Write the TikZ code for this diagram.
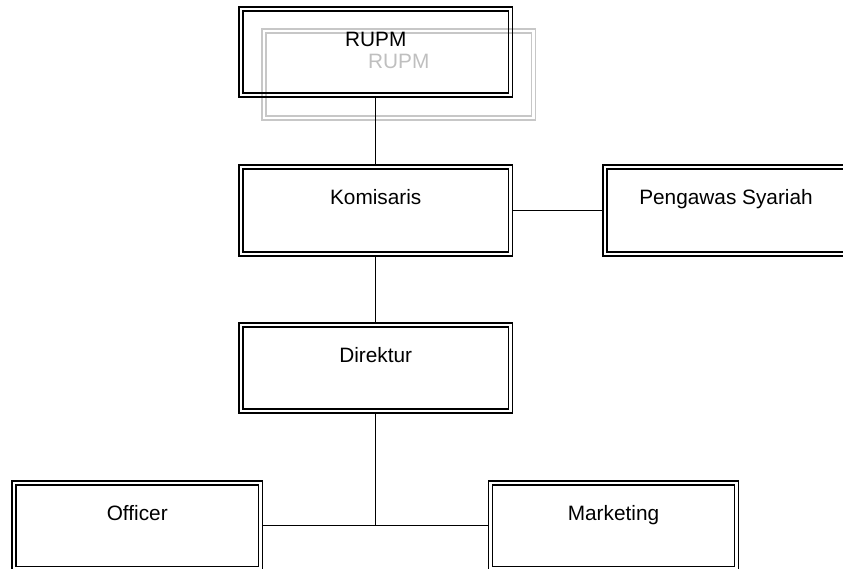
\documentclass[tikz,border=0pt]{standalone}
\usepackage{fontspec}
\setmainfont{Liberation Sans}
\newcommand{\dblbox}[2]{%
  \draw[#2, line width=1.1pt] ([xshift=-2pt,yshift=2pt]#1.north west) rectangle ([xshift=2pt,yshift=-2pt]#1.south east);
  \draw[#2, line width=1.6pt] ([xshift=2pt,yshift=-2pt]#1.north west) rectangle ([xshift=-2pt,yshift=2pt]#1.south east);}
\begin{document}
\begin{tikzpicture}[x=1pt,y=-1pt,
  orgbox/.style={rectangle, inner sep=0pt, outer sep=0pt},
  orgtext/.style={anchor=base, inner sep=0pt, font=\fontsize{20.8}{24}\selectfont},
  ghosttext/.style={orgtext, text=black!25},
  conn/.style={draw=black, line width=1.4pt}
]
\useasboundingbox (0,0) rectangle (843,568);
\clip (0,0) rectangle (843,568);

% ghost (gray) duplicate
\node[orgbox, minimum width=269.5pt, minimum height=87pt] (ghost) at (398.75,74.5) {};
\dblbox{ghost}{black!22}
\node[ghosttext] (ghostt) at ([yshift=-37.5pt]ghost.north) {RUPM};

% boxes
\node[orgbox, minimum width=269.5pt, minimum height=86pt] (rupm) at (375.75,52) {};
\node[orgbox, minimum width=269.5pt, minimum height=87pt] (kom) at (375.75,210.5) {};
\node[orgbox, minimum width=242pt, minimum height=87pt] (peng) at (726,210.5) {};
\node[orgbox, minimum width=269.5pt, minimum height=86pt] (dir) at (375.75,368) {};
\node[orgbox, minimum width=246.5pt, minimum height=85.5pt] (off) at (137.25,525.75) {};
\node[orgbox, minimum width=246pt, minimum height=85.5pt] (mkt) at (613.5,525.75) {};
\dblbox{rupm}{black}
\dblbox{kom}{black}
\dblbox{peng}{black}
\dblbox{dir}{black}
\dblbox{off}{black}
\dblbox{mkt}{black}

% texts
\node[orgtext] (rupmt) at ([yshift=-37.5pt]rupm.north) {RUPM};
\node[orgtext] (komt) at ([yshift=-37.5pt]kom.north) {Komisaris};
\node[orgtext] (pengt) at ([yshift=-37.5pt]peng.north) {Pengawas Syariah};
\node[orgtext] (dirt) at ([yshift=-37.5pt]dir.north) {Direktur};
\node[orgtext] (offt) at ([yshift=-37.5pt]off.north) {Officer};
\node[orgtext] (mktt) at ([yshift=-37.5pt]mkt.north) {Marketing};

% connectors
\coordinate (junc) at (dir.south |- off.east);
\draw[conn] ([yshift=-2pt]rupm.south) -- ([yshift=2pt]kom.north);
\draw[conn] ([xshift=2pt]kom.east) -- ([xshift=-2pt]peng.west);
\draw[conn] ([yshift=-2pt]kom.south) -- ([yshift=2pt]dir.north);
\draw[conn] ([yshift=-2pt]dir.south) -- (junc);
\draw[conn] ([xshift=2pt]off.east) -- ([xshift=-2pt]mkt.west);
\end{tikzpicture}
\end{document}
